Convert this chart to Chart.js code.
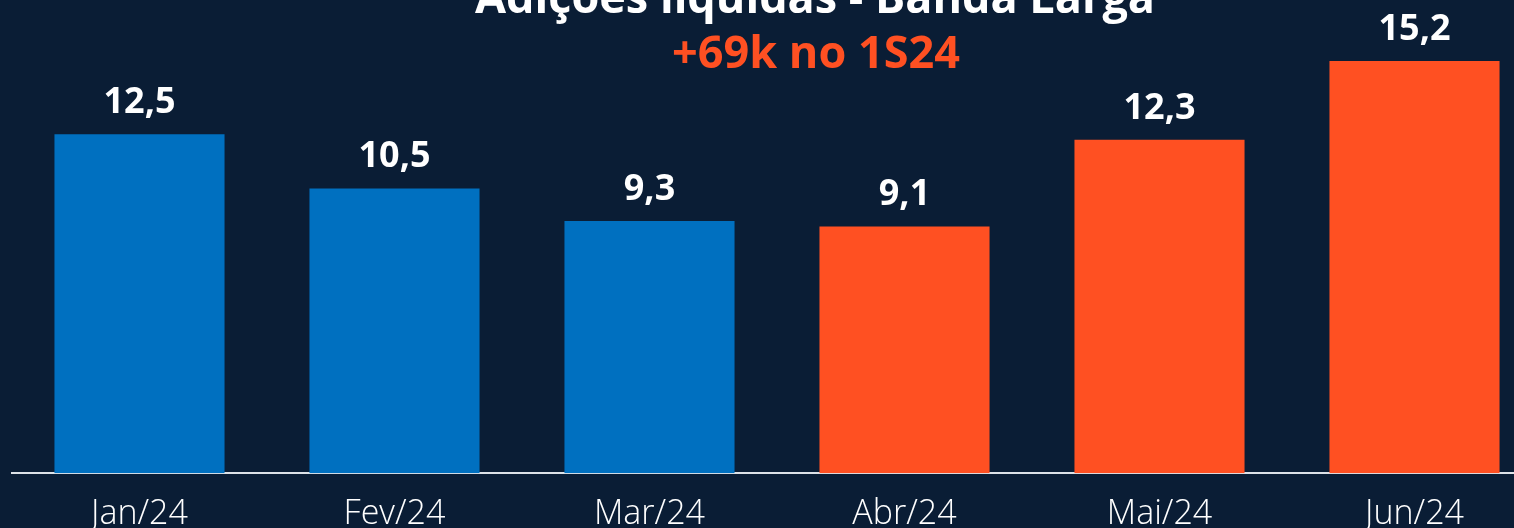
<!DOCTYPE html>
<html>
<head>
<meta charset="utf-8">
<script src="https://cdn.jsdelivr.net/npm/chart.js@4"></script>
<style>
  html, body { margin: 0; padding: 0; background: #0a1d35; overflow: hidden; }
  canvas { display: block; }
</style>
</head>
<body>
<canvas id="chart" width="1542" height="564"></canvas>
<script>
const months = ["Jan/24", "Fev/24", "Mar/24", "Abr/24", "Mai/24", "Jun/24"];
const netAdds = [12.5, 10.5, 9.3, 9.1, 12.3, 15.2];
const barColors = ["#0070c0", "#0070c0", "#0070c0", "#ff5022", "#ff5022", "#ff5022"];
const titleText = "Adições líquidas - Banda Larga";
const subtitleText = "+69k no 1S24";

// paints the dark background behind everything
const background = {
    id: "background",
    beforeDraw(chart) {
        const ctx = chart.ctx;
        ctx.save();
        ctx.fillStyle = "#0a1d35";
        ctx.fillRect(0, 0, chart.width, chart.height);
        ctx.restore();
    },
};

// value above each bar, with a decimal comma
const valueLabels = {
    id: "valueLabels",
    afterDatasetsDraw(chart) {
        const ctx = chart.ctx;
        const meta = chart.getDatasetMeta(0);
        ctx.save();
        ctx.font = "bold 36px 'Open Sans', sans-serif";
        ctx.fillStyle = "#ffffff";
        ctx.textAlign = "center";
        ctx.textBaseline = "alphabetic";
        meta.data.forEach((bar, i) => {
            const label = netAdds[i].toFixed(1).replace(".", ",");
            ctx.fillText(label, bar.x, bar.y - 21);
        });
        ctx.restore();
    },
};

// heading, partly cut off at the top like the slide
const heading = {
    id: "heading",
    afterDraw(chart) {
        const ctx = chart.ctx;
        ctx.save();
        ctx.textAlign = "center";
        ctx.textBaseline = "alphabetic";
        ctx.font = "bold 45px 'Open Sans', sans-serif";
        ctx.fillStyle = "#ffffff";
        ctx.fillText(titleText, 815, 13);
        ctx.fillStyle = "#ff5022";
        ctx.fillText(subtitleText, 816, 68);
        ctx.restore();
    },
};

new Chart(document.getElementById("chart"), {
    type: "bar",
    data: {
        labels: months,
        datasets: [
            {
                data: netAdds,
                backgroundColor: barColors,
                borderWidth: 0,
                barPercentage: 0.667,
                categoryPercentage: 1,
            },
        ],
    },
    options: {
        responsive: false,
        devicePixelRatio: 1,
        animation: false,
        layout: {
            padding: { left: 12, right: 0, top: 0, bottom: 8 },
        },
        plugins: {
            legend: { display: false },
            tooltip: { enabled: false },
        },
        scales: {
            x: {
                grid: { display: false, drawTicks: false },
                border: { display: true, color: "#dde2e8", width: 2 },
                ticks: {
                    color: "#ffffff",
                    padding: 21,
                    font: { family: "'Open Sans', sans-serif", size: 34, weight: 300 },
                },
            },
            y: {
                display: false,
                min: 0,
                max: 17.45,
            },
        },
    },
    plugins: [background, valueLabels, heading],
});
</script>
</body>
</html>
